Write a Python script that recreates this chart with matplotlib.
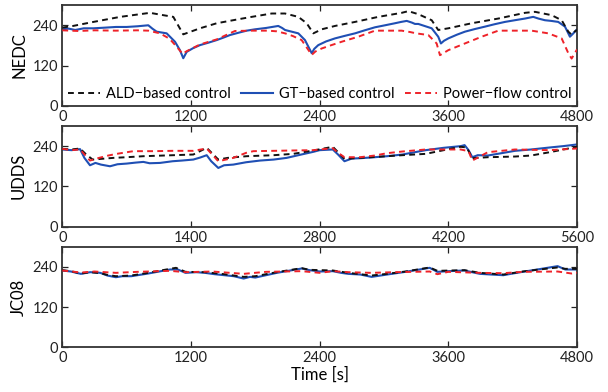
"""Battery SOC-like trajectories of three control strategies over three drive cycles."""
import numpy as np
import matplotlib
matplotlib.use("Agg")
import matplotlib.pyplot as plt

OUT = "out.png"

# ---- NEDC (top panel) ----
nedc_ald_t = [0, 100, 290, 540, 725, 818, 942, 1035, 1128, 1284, 1440, 1626, 1766, 1953,
              2077, 2201, 2279, 2341, 2419, 2543, 2730, 2947, 3165, 3227, 3320, 3445,
              3506, 3600, 3818, 4066, 4315, 4408, 4564, 4657, 4719, 4750, 4781, 4800]
nedc_ald_v = [233, 238, 250, 265, 273, 277, 270, 265, 213, 231, 246, 257, 265, 275,
              275, 265, 246, 216, 228, 238, 250, 265, 277, 282, 273, 255,
              226, 231, 246, 260, 277, 280, 270, 255, 221, 212, 222, 226]

nedc_gt_t = [0, 60, 120, 200, 290, 400, 500, 600, 700, 802, 840, 880, 973, 1051, 1097,
             1128, 1160, 1220, 1284, 1360, 1440, 1500, 1564, 1657, 1720, 1797, 1900,
             2014, 2050, 2077, 2201, 2263, 2326, 2350, 2387, 2460, 2543, 2640, 2730,
             2820, 2916, 3010, 3102, 3160, 3212, 3260, 3289, 3320, 3445, 3506, 3531,
             3560, 3600, 3680, 3755, 3850, 3942, 4030, 4128, 4220, 4315, 4392, 4440,
             4501, 4560, 4625, 4688, 4734, 4760, 4800]
nedc_gt_v = [228, 230, 226, 231, 231, 233, 235, 235, 237, 240, 230, 221, 216, 191, 166,
             142, 161, 172, 181, 188, 196, 203, 211, 219, 224, 228, 232,
             238, 232, 226, 216, 196, 157, 170, 181, 192, 201, 209, 216,
             225, 234, 240, 246, 250, 253, 248, 244, 244, 231, 206, 186,
             194, 201, 212, 221, 229, 236, 243, 250, 255, 260, 265, 260,
             255, 253, 250, 236, 206, 214, 228]

nedc_pf_t = [0, 150, 300, 500, 700, 802, 911, 1000, 1067, 1122, 1160, 1284, 1440, 1610,
             1766, 1919, 2000, 2077, 2150, 2232, 2326, 2360, 2419, 2510, 2605, 2760,
             2916, 3000, 3165, 3242, 3300, 3413, 3491, 3522, 3600, 3755, 3911, 4066,
             4200, 4377, 4532, 4657, 4719, 4750, 4800]
nedc_pf_v = [225, 223, 225, 224, 225, 224, 216, 200, 176, 155, 163, 183, 198, 223,
             224, 224, 222, 216, 208, 196, 152, 162, 171, 181, 191, 206,
             224, 224, 224, 220, 216, 211, 186, 151, 166, 186, 206, 224,
             224, 224, 216, 201, 157, 141, 168]

# ---- UDDS (middle panel) ----
udds_ald_t = [0, 100, 193, 260, 330, 555, 700, 882, 1100, 1425, 1571, 1697, 1800, 2006,
              2300, 2513, 2731, 2943, 3000, 3070, 3239, 3534, 3700, 3955, 4150, 4335,
              4400, 4461, 4630, 4925, 5100, 5305, 5600]
udds_ald_v = [232, 230, 233, 215, 200, 205, 207, 210, 212, 215, 235, 200, 205, 210,
              213, 217, 227, 238, 222, 202, 205, 210, 213, 217, 228, 238,
              236, 204, 207, 209, 212, 222, 238]

udds_gt_t = [0, 100, 193, 240, 301, 360, 420, 519, 600, 700, 800, 882, 950, 1063, 1200,
             1300, 1425, 1500, 1571, 1620, 1697, 1760, 1860, 2000, 2151, 2300, 2441,
             2600, 2731, 2800, 2943, 3000, 3070, 3150, 3239, 3400, 3534, 3700, 3955,
             4150, 4335, 4377, 4420, 4461, 4520, 4630, 4800, 4925, 5100, 5305, 5450, 5600]
udds_gt_v = [230, 228, 231, 205, 183, 190, 185, 180, 186, 188, 191, 193, 189, 190, 195,
             197, 200, 206, 213, 195, 175, 183, 185, 192, 197, 200, 205,
             215, 223, 228, 230, 215, 195, 203, 204, 207, 210, 215, 228,
             235, 240, 243, 228, 207, 213, 212, 220, 226, 230, 236, 240, 245]

udds_pf_t = [0, 100, 193, 301, 400, 500, 592, 773, 1000, 1200, 1425, 1571, 1697, 1780,
             1860, 2000, 2078, 2300, 2500, 2731, 2943, 3000, 3070, 3239, 3400, 3534,
             3700, 3955, 4150, 4335, 4420, 4461, 4630, 4925, 5305, 5600]
udds_pf_v = [232, 228, 230, 197, 205, 212, 217, 225, 225, 226, 226, 233, 195, 200,
             205, 220, 225, 226, 227, 228, 234, 220, 207, 207, 212, 219,
             224, 230, 230, 230, 225, 197, 222, 230, 228, 233]

# ---- JC08 (bottom panel) ----
jc08_ald_t = [0, 80, 173, 260, 354, 420, 499, 643, 800, 1005, 1060, 1149, 1330, 1511,
              1691, 1800, 2000, 2233, 2306, 2523, 2667, 2884, 3029, 3200, 3426, 3498,
              3751, 3896, 4113, 4293, 4450, 4619, 4691, 4800]
jc08_ald_v = [230, 227, 220, 224, 221, 216, 212, 214, 222, 234, 237, 225, 224, 218,
              210, 212, 224, 236, 231, 229, 222, 214, 219, 226, 238, 228,
              230, 222, 217, 226, 232, 238, 234, 234]

jc08_gt_t = [0, 80, 173, 260, 354, 420, 499, 560, 643, 800, 1005, 1077, 1149, 1250,
             1330, 1420, 1511, 1600, 1691, 1750, 1800, 2000, 2233, 2306, 2400, 2523,
             2600, 2667, 2780, 2884, 3029, 3200, 3426, 3498, 3600, 3751, 3850, 3896,
             4000, 4113, 4200, 4293, 4450, 4619, 4691, 4800]
jc08_gt_v = [229, 226, 219, 224, 222, 214, 209, 212, 212, 220, 232, 232, 222, 224,
             222, 218, 215, 212, 205, 210, 208, 222, 235, 230, 226, 227,
             222, 219, 217, 210, 217, 225, 237, 225, 227, 229, 222, 219,
             217, 215, 220, 225, 233, 242, 232, 232]

jc08_pf_t = [0, 173, 300, 500, 700, 1005, 1149, 1400, 1691, 1900, 2233, 2400, 2523,
             2667, 2884, 3100, 3426, 3498, 3600, 3896, 4113, 4293, 4619, 4750, 4800]
jc08_pf_v = [229, 223, 226, 222, 225, 228, 224, 226, 219, 225, 227, 222, 227,
             224, 222, 224, 226, 218, 225, 222, 221, 225, 226, 220, 222]

cycle_names = ["NEDC", "UDDS", "JC08"]
x_max = [4800, 5600, 4800]
x_ticks = [[0, 1200, 2400, 3600, 4800],
           [0, 1400, 2800, 4200, 5600],
           [0, 1200, 2400, 3600, 4800]]
y_ticks = [0, 120, 240]
series_labels = ["ALD\u2212based control", "GT\u2212based control", "Power\u2212flow control"]

BLACK = "#111111"
BLUE = "#1f4fb4"
RED = "#ee2229"
FONT = ["Lato", "DejaVu Sans"]


def style_axes(ax, xm, xt):
    ax.set_xlim(0, xm)
    ax.set_ylim(0, 300)
    ax.set_xticks(xt)
    ax.set_yticks(y_ticks)
    ax.tick_params(direction="in", top=True, right=True, length=4, width=0.9,
                   labelsize=10.5, pad=3, colors="#222222")
    for sp in ax.spines.values():
        sp.set_linewidth(1.3)
        sp.set_color("#333333")


def main():
    plt.rcParams["font.family"] = FONT
    fig = plt.figure(figsize=(6.08, 3.92), dpi=100)
    left, width = 0.1025, 0.8465
    boxes = [(0.7296, 0.2574), (0.4217, 0.2569), (0.114, 0.2567)]

    data = [
        ((nedc_ald_t, nedc_ald_v), (nedc_gt_t, nedc_gt_v), (nedc_pf_t, nedc_pf_v)),
        ((udds_ald_t, udds_ald_v), (udds_gt_t, udds_gt_v), (udds_pf_t, udds_pf_v)),
        ((jc08_ald_t, jc08_ald_v), (jc08_gt_t, jc08_gt_v), (jc08_pf_t, jc08_pf_v)),
    ]

    axes = []
    for i, (b, h) in enumerate(boxes):
        ax = fig.add_axes([left, b, width, h])
        ald, gt, pf = data[i]
        ax.plot(ald[0], ald[1], color=BLACK, lw=1.4, ls=(0, (3, 2.2)),
                label=series_labels[0], zorder=3)
        ax.plot(gt[0], gt[1], color=BLUE, lw=1.5, ls="-",
                label=series_labels[1], zorder=2)
        ax.plot(pf[0], pf[1], color=RED, lw=1.4, ls=(0, (3, 2.2)),
                label=series_labels[2], zorder=4)
        style_axes(ax, x_max[i], x_ticks[i])
        ax.set_ylabel(cycle_names[i], fontsize=12, labelpad=4)
        axes.append(ax)

    axes[0].legend(loc="center", bbox_to_anchor=(0.5, 0.12), ncol=3, frameon=False,
                   fontsize=10.5, handlelength=2.2, handletextpad=0.4,
                   columnspacing=0.7, borderaxespad=0)
    axes[2].set_xlabel("Time [s]", fontsize=12, labelpad=1)

    fig.savefig(OUT, dpi=100)
    plt.close(fig)


if __name__ == "__main__":
    main()
